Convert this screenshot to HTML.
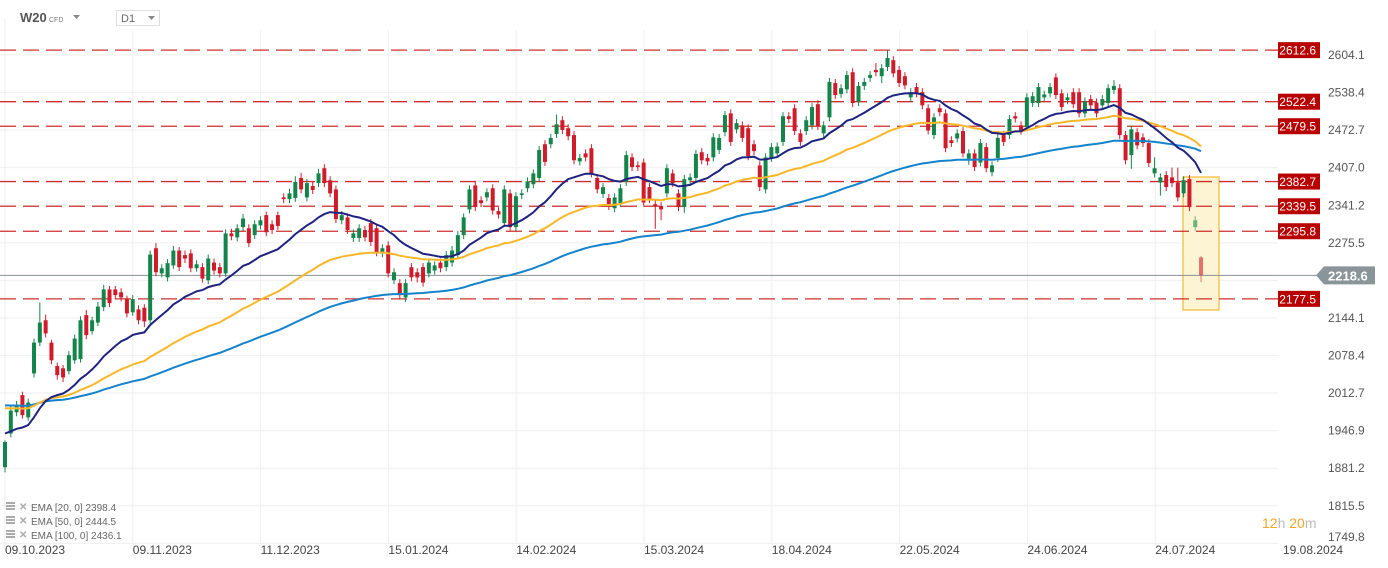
<!DOCTYPE html>
<html><head><meta charset="utf-8"><style>
body{margin:0;background:#fff;font-family:"Liberation Sans",sans-serif;}
#wrap{position:relative;width:1388px;height:568px;overflow:hidden;}
svg{position:absolute;left:0;top:0;}
</style></head><body>
<div id="wrap">
<svg id="chart" width="1388" height="568"></svg>
</div>
<script>
const levels=[2612.6,2522.4,2479.5,2382.7,2339.5,2295.8,2177.5];
const yTicks=[2604.1,2538.4,2472.7,2407.0,2341.2,2275.5,2144.1,2078.4,2012.7,1946.9,1881.2,1815.5,1749.8];
const dateLabels=["09.10.2023","09.11.2023","11.12.2023","15.01.2024","14.02.2024","15.03.2024","18.04.2024","22.05.2024","24.06.2024","24.07.2024","19.08.2024"];
const lastPrice=2218.6;
const emaSeeds=[1942,1986,1991];
const emaPeriods=[20,50,100];
const legendTexts=["EMA [20, 0] 2398.4","EMA [50, 0] 2444.5","EMA [100, 0] 2436.1"];
const candles=[
[1883,1930,1874,1927],[1942,1990,1935,1982],[1979,1999,1972,1991],[2009,2015,1968,1974],[1970,2003,1964,1996],
[2047,2108,2040,2101],[2101,2171,2095,2136],[2140,2150,2110,2117],[2101,2106,2063,2070],[2060,2066,2036,2044],
[2056,2062,2032,2040],[2051,2086,2045,2079],[2070,2115,2064,2108],[2072,2147,2066,2140],[2149,2158,2107,2114],
[2121,2146,2115,2140],[2136,2172,2130,2164],[2163,2202,2156,2194],[2194,2200,2163,2170],[2194,2200,2177,2184],
[2189,2196,2173,2180],[2177,2183,2145,2152],[2154,2184,2148,2177],[2159,2166,2133,2140],[2162,2168,2128,2138],
[2140,2262,2134,2255],[2266,2275,2217,2224],[2222,2238,2215,2231],[2215,2247,2208,2240],[2236,2270,2230,2262],
[2262,2268,2226,2233],[2254,2262,2240,2248],[2257,2264,2224,2231],[2231,2245,2225,2238],[2233,2240,2206,2213],
[2210,2255,2203,2248],[2241,2248,2220,2227],[2233,2240,2215,2222],[2222,2299,2216,2292],[2292,2300,2280,2287],
[2285,2308,2278,2301],[2303,2326,2296,2318],[2301,2308,2268,2275],[2289,2315,2282,2308],[2306,2322,2299,2315],
[2324,2330,2287,2294],[2308,2315,2291,2298],[2324,2330,2298,2305],[2355,2362,2345,2352],[2352,2370,2345,2362],
[2354,2392,2347,2382],[2389,2398,2362,2369],[2355,2387,2348,2380],[2375,2382,2361,2368],[2380,2405,2373,2397],
[2406,2413,2373,2380],[2385,2392,2355,2362],[2369,2376,2310,2317],[2315,2331,2308,2324],[2320,2327,2291,2298],
[2284,2299,2277,2292],[2284,2308,2277,2301],[2298,2305,2278,2285],[2310,2317,2270,2277],[2301,2308,2252,2259],
[2257,2273,2250,2266],[2271,2278,2215,2222],[2210,2231,2203,2224],[2205,2212,2177,2184],[2180,2212,2172,2205],
[2233,2240,2208,2215],[2224,2231,2206,2215],[2233,2240,2199,2206],[2222,2248,2215,2241],[2227,2243,2220,2236],
[2241,2248,2224,2231],[2233,2261,2226,2254],[2241,2270,2234,2262],[2254,2296,2247,2289],[2289,2327,2282,2320],
[2334,2376,2327,2369],[2376,2383,2331,2338],[2350,2357,2338,2345],[2355,2371,2348,2364],[2371,2378,2325,2332],
[2331,2338,2318,2325],[2310,2376,2303,2369],[2362,2369,2296,2303],[2303,2364,2296,2357],[2359,2369,2352,2362],
[2371,2390,2364,2383],[2378,2404,2371,2397],[2389,2445,2382,2438],[2448,2455,2410,2417],[2448,2466,2441,2459],
[2466,2500,2459,2483],[2490,2497,2466,2473],[2476,2483,2455,2462],[2464,2471,2413,2420],[2418,2431,2411,2424],
[2432,2439,2418,2425],[2441,2448,2390,2397],[2389,2396,2362,2369],[2361,2380,2354,2373],[2354,2361,2333,2340],
[2336,2362,2329,2355],[2345,2378,2338,2371],[2382,2436,2375,2429],[2425,2432,2401,2408],[2411,2418,2401,2408],
[2416,2423,2339,2346],[2373,2380,2345,2352],[2343,2350,2300,2340],[2340,2347,2315,2334],[2362,2413,2355,2406],
[2397,2404,2373,2380],[2362,2369,2331,2338],[2338,2394,2328,2387],[2385,2397,2378,2390],[2389,2438,2382,2431],
[2434,2441,2413,2420],[2424,2431,2411,2418],[2425,2467,2418,2460],[2438,2466,2431,2459],[2469,2506,2462,2499],
[2502,2509,2445,2452],[2474,2492,2467,2485],[2481,2488,2452,2459],[2476,2483,2420,2427],[2448,2455,2429,2436],
[2411,2418,2366,2373],[2369,2432,2362,2425],[2424,2450,2417,2443],[2432,2451,2425,2444],[2452,2504,2445,2497],
[2497,2504,2485,2492],[2511,2518,2464,2471],[2467,2474,2445,2452],[2471,2497,2464,2490],[2481,2520,2474,2513],
[2518,2525,2473,2480],[2467,2488,2460,2481],[2495,2564,2488,2557],[2555,2562,2527,2534],[2536,2553,2529,2546],
[2544,2576,2537,2569],[2574,2581,2513,2520],[2522,2557,2515,2550],[2550,2564,2543,2557],[2564,2576,2557,2569],
[2578,2590,2567,2574],[2567,2588,2555,2581],[2583,2612,2576,2599],[2595,2602,2565,2572],[2578,2585,2548,2555],
[2567,2574,2544,2551],[2530,2546,2523,2539],[2548,2555,2530,2537],[2539,2546,2509,2516],[2511,2518,2465,2472],
[2464,2502,2457,2495],[2511,2518,2497,2504],[2502,2509,2434,2441],[2455,2462,2443,2450],[2458,2474,2451,2467],
[2471,2478,2425,2432],[2423,2439,2412,2432],[2432,2439,2401,2408],[2416,2457,2409,2450],[2443,2450,2399,2406],
[2399,2418,2392,2411],[2424,2466,2417,2459],[2464,2471,2445,2452],[2464,2499,2457,2492],[2497,2504,2486,2493],
[2481,2488,2465,2472],[2478,2537,2471,2530],[2520,2539,2513,2532],[2520,2555,2513,2548],[2530,2542,2523,2535],
[2537,2555,2530,2548],[2565,2572,2527,2534],[2537,2544,2506,2513],[2525,2537,2518,2530],[2539,2546,2511,2518],
[2539,2546,2495,2502],[2502,2530,2495,2523],[2527,2534,2509,2516],[2521,2528,2495,2502],[2516,2534,2509,2527],
[2520,2553,2513,2546],[2543,2560,2536,2550],[2546,2553,2457,2464],[2464,2471,2413,2420],[2429,2481,2405,2474],
[2469,2476,2439,2446],[2460,2467,2443,2450],[2450,2457,2408,2415],[2397,2425,2390,2406],[2381,2397,2358,2390],
[2394,2401,2366,2373],[2390,2407,2373,2380],[2381,2407,2348,2355],[2362,2392,2355,2385],[2387,2394,2331,2338],
[2303,2322,2297,2315],[2250,2252,2207,2219]
];
const NS="http://www.w3.org/2000/svg";
const svg=document.getElementById('chart');
function mk(tag,attrs,parent){const e=document.createElementNS(NS,tag);for(const k in attrs)e.setAttribute(k,attrs[k]);(parent||svg).appendChild(e);return e;}
const Y=p=>55+(2604.1-p)*0.5716;
const X=i=>5+i*5.806;
const gridX=k=>5+k*127.8;
const grid=mk('g',{});


yTicks.forEach(t=>{mk('line',{x1:0,x2:1278,y1:Y(t),y2:Y(t),stroke:'#efefef','stroke-width':1},grid);});
mk('line',{x1:0,x2:1278,y1:Y(2209.8),y2:Y(2209.8),stroke:'#efefef'},grid);
for(let k=0;k<10;k++){mk('line',{x1:gridX(k),x2:gridX(k),y1:k==0?18:30,y2:543,stroke:'#efefef'},grid);}
const box=mk('rect',{x:1183,y:177,width:36,height:133,fill:'#fcf4d2',stroke:'#f5b82e','stroke-width':1.2});


levels.forEach(l=>{
  const g=mk('g',{});
  
  
  mk('line',{x1:0,x2:1278,y1:Y(l),y2:Y(l),stroke:'#c81818','stroke-width':1.3,'stroke-dasharray':'16 7','stroke-opacity':0.9},g);
  mk('rect',{x:1278,y:Y(l)-8,width:42,height:16,fill:'#b80000'},g);
  const t=mk('text',{x:1316,y:Y(l)+4.5,'font-size':12,fill:'#fff','text-anchor':'end'},g);t.textContent=l.toFixed(1);
});
const lp=mk('line',{x1:0,x2:1320,y1:Y(lastPrice),y2:Y(lastPrice),stroke:'#8a9296','stroke-width':1});


const cg=mk('g',{});


candles.forEach((c,i)=>{
  const [o,h,l,cl]=c;const up=cl>=o;const col=up?'#14854a':'#d01b2a';
  const g=mk('g',{opacity:i>=205?0.6:1},cg);
  
  
  const x=X(i);
  mk('line',{x1:x,x2:x,y1:Y(h),y2:Y(l),stroke:col,'stroke-width':1},g);
  const top=Y(Math.max(o,cl)),bot=Y(Math.min(o,cl));
  mk('rect',{x:x-2,y:top,width:4,height:Math.max(1,bot-top),fill:col},g);
});
const emaColors=['#1f2380','#f8b729','#1583cc'];
[2,1,0].forEach(j=>{
  let e=emaSeeds[j];const k=2/(emaPeriods[j]+1);let d='';
  candles.forEach((c,i)=>{if(i>0)e=c[3]*k+e*(1-k);d+=(i?'L':'M')+X(i).toFixed(1)+' '+Y(e).toFixed(1);});
  const p=mk('path',{d:d,fill:'none',stroke:emaColors[j],'stroke-width':2});
  
  
});
yTicks.forEach(t=>{const yy=Math.min(Y(t)+4,541);const tx=mk('text',{x:1328,y:yy,'font-size':12,fill:'#555'});tx.textContent=t.toFixed(1);
  
  });
const tag=mk('g',{});


const ly=Y(lastPrice);
mk('path',{d:`M1316 ${ly} L1324 ${ly-9} L1375 ${ly-9} L1375 ${ly+9} L1324 ${ly+9} Z`,fill:'#8a9599'},tag);
const tt=mk('text',{x:1328,y:ly+5,'font-size':13,fill:'#fff','font-weight':'bold'},tag);tt.textContent=lastPrice.toFixed(1);
dateLabels.forEach((d,k)=>{const t=mk('text',{x:gridX(k),y:554,'font-size':12,fill:'#444'});t.textContent=d;
  
  });
legendTexts.forEach((s,i)=>{
  const g=mk('g',{});
  
  
  const y=508+i*14;
  mk('rect',{x:6,y:y-6,width:9,height:2,fill:'#aaa'},g);mk('rect',{x:6,y:y-3,width:9,height:2,fill:'#aaa'},g);mk('rect',{x:6,y:y,width:9,height:2,fill:'#aaa'},g);
  const x=mk('text',{x:19,y:y+2,'font-size':10,fill:'#aaa','font-weight':'bold'},g);x.textContent='✕';
  const t=mk('text',{x:31,y:y+3,'font-size':10,fill:'#666'},g);t.textContent=s;
});
const tm=mk('text',{x:1262,y:528,'font-size':14});


tm.innerHTML='<tspan fill="#f5a623">12</tspan><tspan fill="#bbb">h </tspan><tspan fill="#f5a623">20</tspan><tspan fill="#bbb">m</tspan>';
const hd=mk('g',{});


const w=mk('text',{x:20,y:22,'font-size':13,'font-weight':'bold',fill:'#555'},hd);w.textContent='W20';
const cf=mk('text',{x:49,y:22,'font-size':7,fill:'#777'},hd);cf.textContent='CFD';
mk('path',{d:'M73 15 L80 15 L76.5 19 Z',fill:'#888'},hd);
const tf=mk('g',{});


mk('rect',{x:116.5,y:10.5,width:43,height:15,fill:'#fff',stroke:'#ddd'},tf);
const d1=mk('text',{x:121,y:22,'font-size':11,fill:'#666'},tf);d1.textContent='D1';
mk('path',{d:'M148 16 L155 16 L151.5 20 Z',fill:'#888'},tf);
</script>
</body></html>
